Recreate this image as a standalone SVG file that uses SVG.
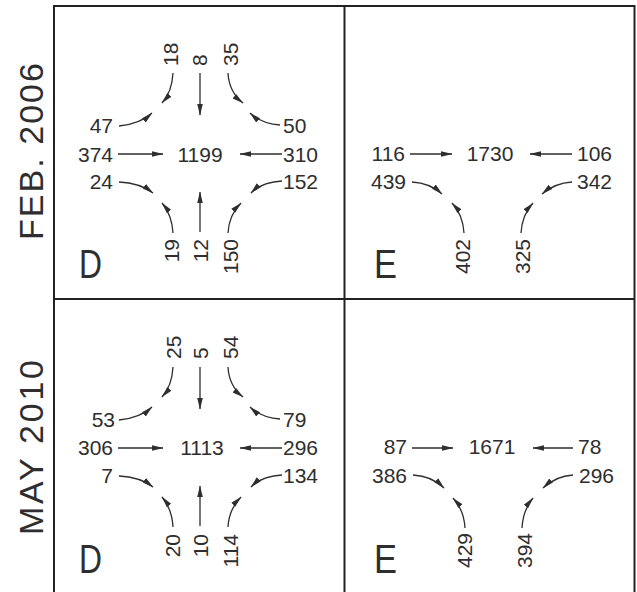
<svg xmlns="http://www.w3.org/2000/svg" width="637" height="592" viewBox="0 0 637 592">
<style>
  text { font-family: "Liberation Sans", Arial, sans-serif; fill: #2e2e2e; }
  .n { font-size: 21px; }
  .e { text-anchor: end; }
  .m { text-anchor: middle; }
  .big { font-size: 41px; }
  .side { font-size: 34px; }
  .frame { stroke: #222; stroke-width: 2; fill: none; }
  .c { stroke: #2e2e2e; stroke-width: 1.3; fill: none; marker-end: url(#ah); }
</style>
<defs>
  <marker id="ah" markerUnits="userSpaceOnUse" markerWidth="12" markerHeight="8" refX="11" refY="4" orient="auto" viewBox="0 0 12 8">
    <path d="M0,1.2 L11.5,4 L0,6.8 Z" fill="#2e2e2e"/>
  </marker>
</defs>
<rect width="637" height="592" fill="#ffffff"/>
<g id="frame">
  <path class="frame" d="M54,592 V6 H634.5 V592 M54,299 H635 M344.5,6 V592"/>
</g>
<g id="side-labels">
  <text class="side" transform="translate(43,240) rotate(-90)" textLength="177" lengthAdjust="spacing">FEB. 2006</text>
  <text class="side" transform="translate(43,535) rotate(-90)" textLength="175" lengthAdjust="spacing">MAY 2010</text>
</g>
<g id="panel-D-2006">
  <text class="big" x="79" y="278" textLength="23" lengthAdjust="spacingAndGlyphs">D</text>
  <text class="n m" x="200" y="162">1199</text>
  <text class="n e" x="113" y="162">374</text>
  <text class="n" x="283" y="162">310</text>
  <text class="n e" x="113" y="133">47</text>
  <text class="n" x="283" y="133">50</text>
  <text class="n e" x="113" y="189">24</text>
  <text class="n" x="283" y="189">152</text>
  <text class="n" transform="translate(178,66) rotate(-90)">18</text>
  <text class="n" transform="translate(207,66) rotate(-90)">8</text>
  <text class="n" transform="translate(238,66) rotate(-90)">35</text>
  <text class="n e" transform="translate(179,239) rotate(-90)">19</text>
  <text class="n e" transform="translate(208,239) rotate(-90)">12</text>
  <text class="n e" transform="translate(238,239) rotate(-90)">150</text>
</g>
<g id="panel-E-2006">
  <text class="big" x="374" y="278" textLength="23" lengthAdjust="spacingAndGlyphs">E</text>
  <text class="n m" x="490" y="161">1730</text>
  <text class="n e" x="405" y="161">116</text>
  <text class="n" x="577" y="161">106</text>
  <text class="n e" x="406" y="189">439</text>
  <text class="n" x="577" y="189">342</text>
  <text class="n e" transform="translate(470,239) rotate(-90)">402</text>
  <text class="n e" transform="translate(530,239) rotate(-90)">325</text>
</g>
<g id="panel-D-2010">
  <text class="big" x="79" y="573" textLength="23" lengthAdjust="spacingAndGlyphs">D</text>
  <text class="n m" x="202" y="455">1113</text>
  <text class="n e" x="113" y="455">306</text>
  <text class="n" x="283" y="455">296</text>
  <text class="n e" x="115" y="427">53</text>
  <text class="n" x="283" y="427">79</text>
  <text class="n e" x="113" y="483">7</text>
  <text class="n" x="283" y="483">134</text>
  <text class="n" transform="translate(181,359) rotate(-90)">25</text>
  <text class="n" transform="translate(208,359) rotate(-90)">5</text>
  <text class="n" transform="translate(238,359) rotate(-90)">54</text>
  <text class="n e" transform="translate(180,534) rotate(-90)">20</text>
  <text class="n e" transform="translate(208,534) rotate(-90)">10</text>
  <text class="n e" transform="translate(238,534) rotate(-90)">114</text>
</g>
<g id="panel-E-2010">
  <text class="big" x="374" y="573" textLength="23" lengthAdjust="spacingAndGlyphs">E</text>
  <text class="n m" x="492" y="454">1671</text>
  <text class="n e" x="407" y="454">87</text>
  <text class="n" x="578" y="454">78</text>
  <text class="n e" x="407" y="483">386</text>
  <text class="n" x="579" y="483">296</text>
  <text class="n e" transform="translate(472,533) rotate(-90)">429</text>
  <text class="n e" transform="translate(532,533) rotate(-90)">394</text>
</g>
<g id="connectors">
  <g id="conn-D-2006">
    <path class="c" d="M118,154 H163"/>
    <path class="c" d="M282,154 H240"/>
    <path class="c" d="M200,73 V115"/>
    <path class="c" d="M200,232 V192"/>
    <path class="c" d="M119,126 Q140,124 152,113"/>
    <path class="c" d="M173,73 Q172,92 162,103"/>
    <path class="c" d="M228,73 Q229,92 243,103"/>
    <path class="c" d="M280,125 Q262,124 250,113"/>
    <path class="c" d="M119,182 Q140,183 153,193"/>
    <path class="c" d="M282,181 Q262,182 251,193"/>
    <path class="c" d="M173,233 Q172,215 162,203"/>
    <path class="c" d="M228,233 Q229,215 241,203"/>
  </g>
  <g id="conn-E-2006">
    <path class="c" d="M410,154 H452"/>
    <path class="c" d="M572,154 H530"/>
    <path class="c" d="M412,182 Q430,183 442,194"/>
    <path class="c" d="M572,182 Q555,183 542,194"/>
    <path class="c" d="M464,233 Q463,215 452,203"/>
    <path class="c" d="M521,233 Q522,215 533,203"/>
  </g>
  <g id="conn-D-2010">
    <path class="c" d="M118,448 H163"/>
    <path class="c" d="M282,448 H240"/>
    <path class="c" d="M200,367 V409"/>
    <path class="c" d="M200,526 V486"/>
    <path class="c" d="M119,420 Q140,418 152,407"/>
    <path class="c" d="M173,367 Q172,386 162,397"/>
    <path class="c" d="M228,367 Q229,386 243,397"/>
    <path class="c" d="M280,419 Q262,418 250,407"/>
    <path class="c" d="M119,476 Q140,477 153,487"/>
    <path class="c" d="M282,475 Q262,476 251,487"/>
    <path class="c" d="M173,527 Q172,509 162,497"/>
    <path class="c" d="M228,527 Q229,509 241,497"/>
  </g>
  <g id="conn-E-2010">
    <path class="c" d="M412,448 H453"/>
    <path class="c" d="M573,448 H533"/>
    <path class="c" d="M413,475 Q432,476 444,488"/>
    <path class="c" d="M573,475 Q556,476 543,488"/>
    <path class="c" d="M465,528 Q464,510 453,498"/>
    <path class="c" d="M522,528 Q523,510 533,498"/>
  </g>
</g>
</svg>
